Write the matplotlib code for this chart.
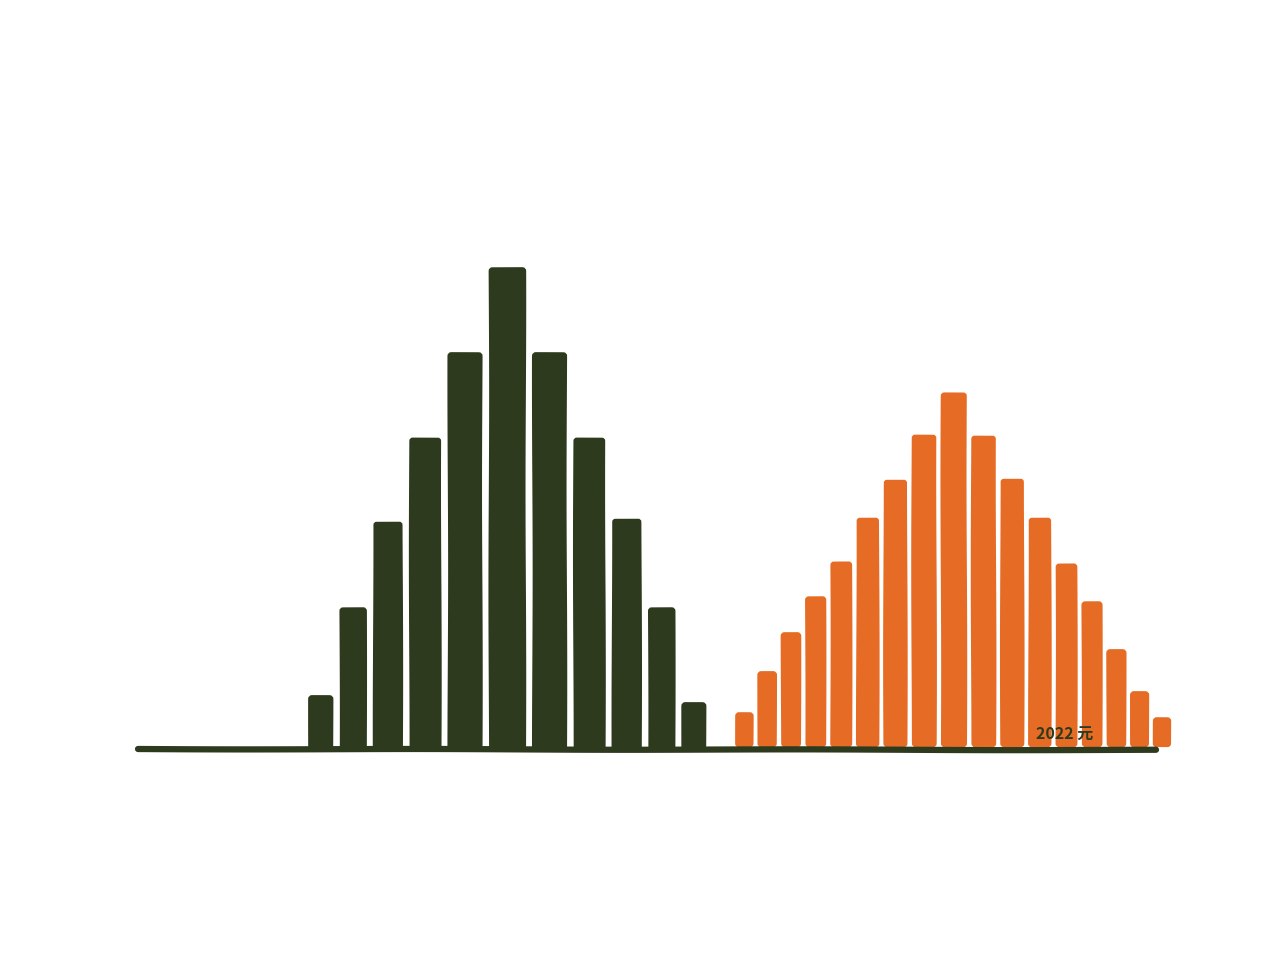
import numpy as np
import matplotlib.pyplot as plt
from matplotlib.patches import FancyBboxPatch

# bar heights (pixels above the baseline)
green_heights = [53, 141, 227, 311, 396, 481, 396, 311, 230, 141, 46]
orange_heights = [36, 77, 116, 152, 187, 231, 269, 314, 356, 313, 270,
                  231, 185, 147, 99, 57, 31]
signature = '2022 元'

GREEN = '#2d3a1e'
ORANGE = '#e66c25'


def layout(heights, start, base_w, grow_w, gap):
    # hand drawn bars get a little wider when they are taller
    h = np.asarray(heights, dtype=float)
    widths = base_w + grow_w * h / h.max()
    lefts = start + np.concatenate([[0], np.cumsum(widths[:-1] + gap)])
    return lefts, widths


fig = plt.figure(figsize=(12.8, 9.59), dpi=100)
ax = fig.add_axes([0, 0, 1, 1])
ax.set_xlim(0, 1280)
ax.set_ylim(-211, 748)
ax.axis('off')


def draw_group(heights, lefts, widths, color, bottom):
    for x, w, h in zip(lefts, widths, heights):
        p = FancyBboxPatch((x + 1.5, bottom), w - 3, h - bottom - 1.5,
                           boxstyle='round,pad=0,rounding_size=2.5',
                           facecolor=color, edgecolor=color, linewidth=1.5)
        p.set_sketch_params(0.35, 400, 1.5)
        ax.add_patch(p)


gl, gw = layout(green_heights, 308, 24, 14, 5.5)
draw_group(green_heights, gl, gw, GREEN, -1)

ol, ow = layout(orange_heights, 735, 18, 9, 3.3)
draw_group(orange_heights, ol, ow, ORANGE, 2)

# baseline stroke
base, = ax.plot([138, 1156], [-1, -2], color=GREEN, lw=4.5,
                solid_capstyle='round', zorder=3)
base.set_sketch_params(0.3, 400, 1.5)

ax.text(1036, 5, signature, color=GREEN, fontsize=11.5, style='italic',
        fontweight='bold', family=['Noto Sans CJK SC', 'DejaVu Sans'],
        ha='left', va='bottom', zorder=4)

fig.savefig('out.png', dpi=100, facecolor='white')
